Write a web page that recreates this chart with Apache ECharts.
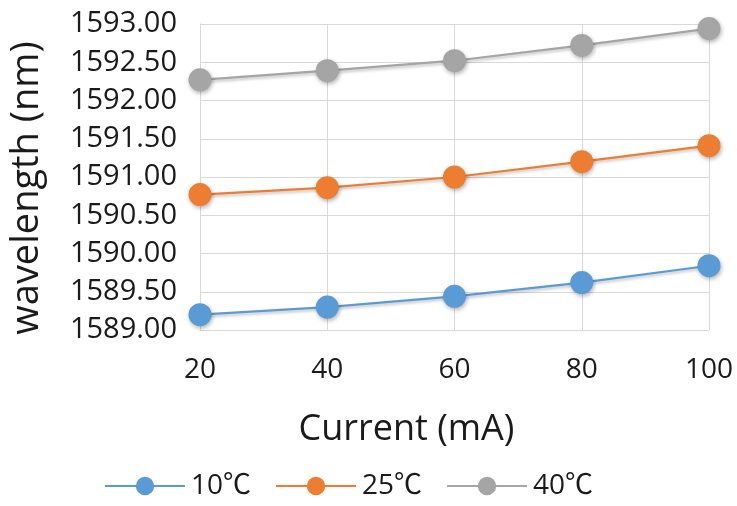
<!DOCTYPE html>
<html>
<head>
<meta charset="utf-8">
<script src="https://cdn.jsdelivr.net/npm/echarts@6/dist/echarts.min.js"></script>
<style>html,body{margin:0;padding:0;background:#fff}#c{width:737px;height:506px}</style>
</head>
<body>
<div id="c"></div>
<script>
var categories = ['20', '40', '60', '80', '100'];
var s10 = [1589.20, 1589.30, 1589.44, 1589.62, 1589.84];
var s25 = [1590.77, 1590.86, 1591.00, 1591.20, 1591.41];
var s40 = [1592.27, 1592.39, 1592.52, 1592.72, 1592.94];
var seriesNames = ['10\u2103', '25\u2103', '40\u2103'];
var colors = ['#5B9BD5', '#ED7D31', '#A5A5A5'];

var font = '"Open Sans", "Noto Sans CJK SC", sans-serif';
var chart = echarts.init(document.getElementById('c'));
function mk(name, data, color) {
  return {
    name: name, type: 'line', data: data,
    symbol: 'circle', symbolSize: 23,
    lineStyle: { color: color, width: 2.2, shadowBlur: 3, shadowColor: 'rgba(0,0,0,0.25)', shadowOffsetY: 2 },
    itemStyle: { color: color, shadowBlur: 4, shadowColor: 'rgba(0,0,0,0.3)', shadowOffsetX: 1, shadowOffsetY: 2 }
  };
}
chart.setOption({
  animation: false,
  color: colors,
  grid: { left: 198, right: 28, top: 24, bottom: 176 },
  legend: {
    top: 467, left: 99,
    itemWidth: 80, itemHeight: 23, itemGap: 24,
    textStyle: { fontFamily: font, fontSize: 28, color: '#1a1a1a', padding: [0, 0, 0, 1] },
    data: seriesNames
  },
  xAxis: {
    type: 'category', data: categories, boundaryGap: false,
    name: 'Current (mA)', nameLocation: 'middle', nameGap: 82,
    nameTextStyle: { fontFamily: font, fontSize: 36, color: '#1a1a1a', padding: [0, 96, 0, 0] },
    axisLine: { show: true, lineStyle: { color: '#d9d9d9' } },
    axisTick: { show: false },
    axisLabel: { fontFamily: font, fontSize: 28, color: '#1a1a1a', margin: 26 },
    splitLine: { show: true, lineStyle: { color: '#d9d9d9', width: 1 } }
  },
  yAxis: {
    type: 'value', min: 1589, max: 1593, interval: 0.5,
    name: 'wavelength (nm)', nameLocation: 'middle', nameGap: 154,
    nameTextStyle: { fontFamily: font, fontSize: 38, color: '#1a1a1a', padding: [0, 22, 0, 0] },
    axisLine: { show: true, lineStyle: { color: '#d9d9d9' } },
    axisTick: { show: false },
    axisLabel: { fontFamily: font, fontSize: 29, color: '#1a1a1a', margin: 23,
      formatter: function (v) { return v.toFixed(2); } },
    splitLine: { show: true, lineStyle: { color: '#d9d9d9', width: 1 } }
  },
  series: [mk(seriesNames[0], s10, colors[0]), mk(seriesNames[1], s25, colors[1]), mk(seriesNames[2], s40, colors[2])]
});
</script>
</body>
</html>
